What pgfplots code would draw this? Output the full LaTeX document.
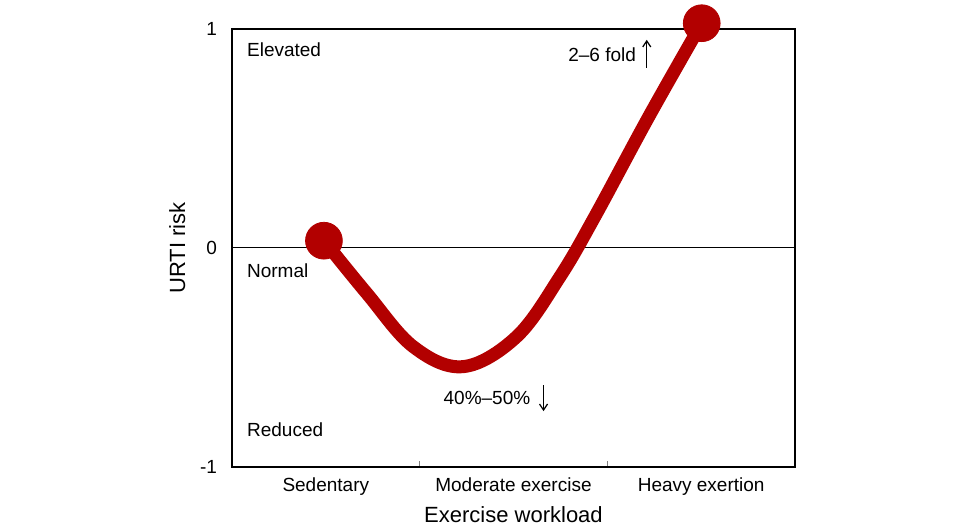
\documentclass[border=0pt]{standalone}
\usepackage{fontspec}
\setmainfont{Liberation Sans}
\usepackage{pgfplots}
\pgfplotsset{compat=1.18}
\usetikzlibrary{arrows.meta}
\definecolor{curvered}{RGB}{178,0,0}

\begin{document}
\begin{tikzpicture}
\begin{axis}[
    width=281.5pt, height=219pt, scale only axis,
    xmin=0, xmax=3, ymin=-1, ymax=1,
    axis line style={line width=0.7pt},
    xtick={0.5,1.5,2.5},
    xticklabels={Sedentary, Moderate exercise, Heavy exertion},
    minor xtick={1,2},
    ytick={-1,0,1}, yticklabels={-1,0,1},
    major tick length=0pt, minor tick length=3pt, tick align=inside,
    xtick pos=bottom, ytick pos=left,
    tick label style={font=\fontsize{9.5}{11}\selectfont},
    xticklabel style={yshift=-2pt},
    yticklabel style={xshift=-4pt},
    xlabel={Exercise workload}, ylabel={URTI risk},
    label style={font=\fontsize{11}{13}\selectfont},
    xlabel style={yshift=1.5pt},
    ylabel style={yshift=0.5pt},
    clip=false,
]
% invisible frame giving the reference's margins
\path (rel axis cs:-0.412,-0.137) rectangle (rel axis cs:1.309,1.066);

% zero line
\addplot[black, line width=0.5pt] coordinates {(0,0) (3,0)};

% risk curve
\addplot[curvered, line width=6.5pt, smooth, tension=0.6] coordinates {
    (0.490,0.033) (0.718,-0.207) (0.966,-0.451) (1.232,-0.542)
    (1.517,-0.405) (1.748,-0.131) (1.934,0.144) (2.220,0.598)
    (2.503,1.026)
};
\addplot[curvered, only marks, mark=*, mark size=9.2pt] coordinates {
    (0.490,0.033) (2.503,1.026)
};

% annotations
\node[anchor=west, font=\fontsize{9.5}{11}\selectfont] at (axis cs:0.043,0.904) {Elevated};
\node[anchor=west, font=\fontsize{9.5}{11}\selectfont] at (axis cs:0.043,-0.105) {Normal};
\node[anchor=west, font=\fontsize{9.5}{11}\selectfont] at (axis cs:0.043,-0.831) {Reduced};
\node[anchor=east, font=\fontsize{9.5}{11}\selectfont] at (axis cs:2.19,0.881) {2–6 fold};
\node[anchor=east, font=\fontsize{9.5}{11}\selectfont] at (axis cs:1.627,-0.685) {40\%–50\%};
\draw[-{Straight Barb[length=3pt,width=4pt]}, line width=0.6pt]
    (axis cs:2.21,0.822) -- (axis cs:2.21,0.95);
\draw[-{Straight Barb[length=3pt,width=4pt]}, line width=0.6pt]
    (axis cs:1.66,-0.626) -- (axis cs:1.66,-0.745);
\end{axis}
\end{tikzpicture}
\end{document}
